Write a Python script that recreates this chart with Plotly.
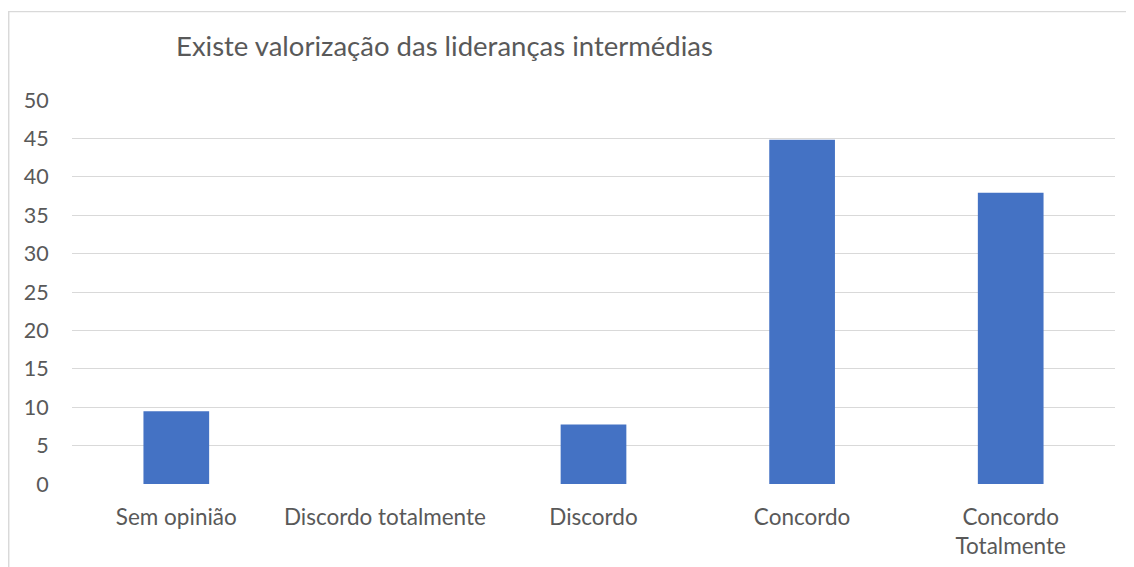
import plotly.graph_objects as go

categories = ["Sem opinião", "Discordo totalmente", "Discordo", "Concordo", "Concordo<br>Totalmente"]
values = [9.48, 0, 7.76, 44.83, 37.93]
y_ticks = [0, 5, 10, 15, 20, 25, 30, 35, 40, 45, 50]
title_text = "Existe valorização das lideranças intermédias"

# page body has an 8px margin; work in target-screen coordinates and offset
O = 8
W, H = 1134 - O, 567 - O
L, R, T, B = 72 - O, 1115 - O, 100 - O, 484.5 - O
pw, ph = R - L, B - T

def px(x):
    return (x - O - L) / pw

def py(y):
    return (B - (y - O)) / ph

font_family = "Lato, Open Sans, sans-serif"
gray = "#595959"

fig = go.Figure(go.Bar(
    x=categories, y=values, marker_color="#4472C4",
    marker_line_width=0, width=0.315,
))

fig.update_layout(
    width=W, height=H,
    margin=dict(l=L, r=W - R, t=T, b=H - B, autoexpand=False),
    plot_bgcolor="white", paper_bgcolor="white",
    showlegend=False,
    font=dict(family=font_family, color=gray, size=22),
    xaxis=dict(showgrid=False, showline=False, zeroline=False,
               ticks="outside", ticklen=13, tickcolor="rgba(0,0,0,0)",
               tickfont=dict(size=22.5, color=gray)),
    yaxis=dict(range=[0, 50], tickvals=y_ticks, showgrid=True,
               gridcolor="#D9D9D9", gridwidth=1.3, zeroline=False, showline=False,
               ticks="outside", ticklen=18, tickcolor="rgba(0,0,0,0)",
               tickfont=dict(size=21.5, color=gray)),
    annotations=[dict(text=title_text, x=px(174), y=py(45), xref="paper", yref="paper",
                      xanchor="left", yanchor="middle", showarrow=False,
                      font=dict(size=27.5, color=gray, family=font_family))],
    shapes=[
        dict(type="line", xref="paper", yref="paper", x0=px(8.7), x1=px(8.7), y0=py(11.5), y1=py(600),
             line=dict(color="#D9D9D9", width=1.5)),
        dict(type="line", xref="paper", yref="paper", x0=px(8), x1=px(1140), y0=py(11.5), y1=py(11.5),
             line=dict(color="#D9D9D9", width=1.3)),
    ],
)

fig.write_html("out.html")
